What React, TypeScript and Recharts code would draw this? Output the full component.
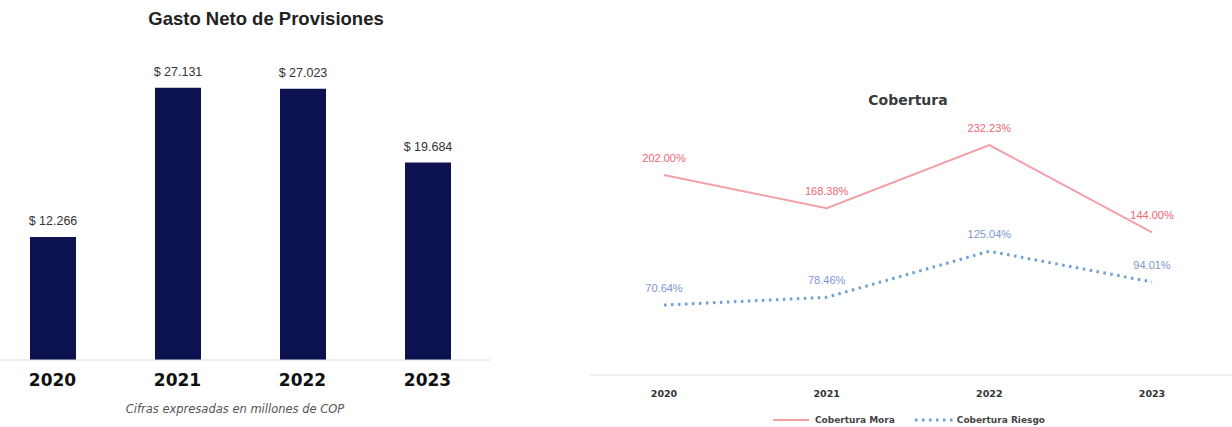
import React from 'react';
import { BarChart, Bar, XAxis, YAxis, LabelList, LineChart, Line } from 'recharts';

const years = ['2020', '2021', '2022', '2023'];
const gastoNeto = [12266, 27131, 27023, 19684];
const coberturaMora = [202.0, 168.38, 232.23, 144.0];
const coberturaRiesgo = [70.64, 78.46, 125.04, 94.01];
const seriesNames = ['Cobertura Mora', 'Cobertura Riesgo'];

const barData = years.map((y, i) => ({ year: y, gasto: gastoNeto[i] }));
const lineData = years.map((y, i) => ({ year: y, mora: coberturaMora[i], riesgo: coberturaRiesgo[i] }));

const NAVY = '#0c1250';
const MORA = '#f2a0a6';
const MORA_LBL = '#ee6674';
const RIESGO = '#6e9fd6';
const RIESGO_LBL = '#7e97d2';

const fmtMoney = (v: any) => '$ ' + (Number(v) / 1000).toFixed(3);
const fmtPct = (v: any) => Number(v).toFixed(2) + '%';

const MoneyLabel = (props: any) => {
  const { x, y, width, value } = props;
  return (
    <text
      x={Number(x) + Number(width) / 2}
      y={Number(y) - 12}
      textAnchor="middle"
      style={{ fontFamily: '"Liberation Sans", Arial, sans-serif', fontSize: 12.5, fill: '#333' }}
    >
      {fmtMoney(value)}
    </text>
  );
};

const makePctLabel = (color: string) => (props: any) => {
  const { x, y, value } = props;
  return (
    <text
      x={Number(x)}
      y={Number(y) - 13}
      textAnchor="middle"
      style={{ fontFamily: '"Liberation Sans", Arial, sans-serif', fontSize: 11, fill: color }}
    >
      {fmtPct(value)}
    </text>
  );
};

export default function App() {
  return (
    <div style={{ position: 'absolute', left: 0, top: 0, width: 1232, height: 427, background: '#fff', overflow: 'hidden' }}>
      <div style={{ position: 'absolute', left: 0, width: 532, top: 8, textAlign: 'center', fontFamily: '"Liberation Sans", Arial, sans-serif', fontWeight: 700, fontSize: 18.5, color: '#222' }}>
        Gasto Neto de Provisiones
      </div>
      <div style={{ position: 'absolute', left: -10, top: 0 }}>
        <BarChart width={500} height={427} data={barData} margin={{ top: 59, right: 0, bottom: 37, left: 0 }}>
          <YAxis hide domain={[0, 30000]} />
          <XAxis
            dataKey="year"
            tickLine={false}
            axisLine={{ stroke: '#dcdcdc' }}
            tickMargin={8}
            tick={{ fontFamily: '"DejaVu Sans", Verdana, sans-serif', fontWeight: 700, fontSize: 17, fill: '#111' }}
          />
          <Bar dataKey="gasto" fill={NAVY} barSize={46} isAnimationActive={false}>
            <LabelList dataKey="gasto" content={MoneyLabel} />
          </Bar>
        </BarChart>
      </div>
      <div style={{ position: 'absolute', left: 0, width: 470, top: 402, textAlign: 'center', fontFamily: '"DejaVu Sans", Verdana, sans-serif', fontStyle: 'italic', fontSize: 11.5, color: '#555' }}>
        Cifras expresadas en millones de COP
      </div>

      <div style={{ position: 'absolute', left: 580, width: 656, top: 92, textAlign: 'center', fontFamily: '"DejaVu Sans", Verdana, sans-serif', fontWeight: 700, fontSize: 14, color: '#3a3a3a' }}>
        Cobertura
      </div>
      <div style={{ position: 'absolute', left: 580, top: 0 }}>
        <LineChart width={652} height={427} data={lineData} margin={{ top: 127.5, right: 0, bottom: 22, left: 10 }}>
          <YAxis hide domain={[0, 250]} />
          <XAxis
            dataKey="year"
            padding={{ left: 74, right: 80 }}
            tickLine={false}
            axisLine={{ stroke: '#e4e4e4' }}
            tickMargin={9}
            tick={{ fontFamily: '"DejaVu Sans", Verdana, sans-serif', fontWeight: 700, fontSize: 9.5, fill: '#333' }}
          />
          <Line dataKey="mora" stroke={MORA} strokeWidth={2} dot={false} isAnimationActive={false}>
            <LabelList dataKey="mora" content={makePctLabel(MORA_LBL)} />
          </Line>
          <Line dataKey="riesgo" stroke={RIESGO} strokeWidth={3} strokeDasharray="2.5 4.5" dot={false} isAnimationActive={false}>
            <LabelList dataKey="riesgo" content={makePctLabel(RIESGO_LBL)} />
          </Line>
        </LineChart>
      </div>
      <div style={{ position: 'absolute', left: 773, top: 415, display: 'flex', alignItems: 'center', fontFamily: '"DejaVu Sans", Verdana, sans-serif', fontWeight: 700, fontSize: 9, color: '#444' }}>
        <svg width={36} height={10}><line x1={0} y1={5} x2={36} y2={5} stroke={MORA} strokeWidth={2} /></svg>
        <span style={{ marginLeft: 6, marginRight: 20 }}>{seriesNames[0]}</span>
        <svg width={40} height={10}><line x1={0} y1={5} x2={40} y2={5} stroke={RIESGO} strokeWidth={3} strokeDasharray="2.5 4.5" /></svg>
        <span style={{ marginLeft: 2 }}>{seriesNames[1]}</span>
      </div>
    </div>
  );
}
